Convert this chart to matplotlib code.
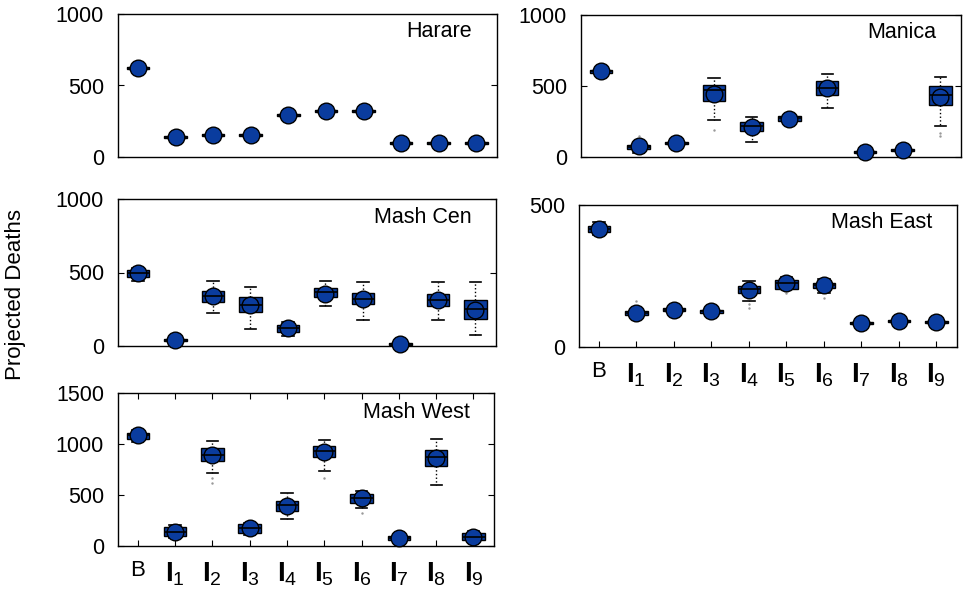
import matplotlib
matplotlib.use("Agg")
import matplotlib.pyplot as plt

plt.rcParams['font.family'] = ['Liberation Sans', 'DejaVu Sans']
plt.rcParams['mathtext.fontset'] = 'custom'
plt.rcParams['mathtext.rm'] = 'Liberation Sans'
plt.rcParams['mathtext.bf'] = 'Liberation Sans:bold'

BLUE = '#0a3c9e'

SCENARIOS = ['B'] + ['I%d' % i for i in range(1, 10)]
XLABELS = ['B'] + [r'$\mathbf{I}_{\mathrm{%d}}$' % i for i in range(1, 10)]

# Harare
HAR_MEAN = [620, 142, 154, 154, 294, 322, 320, 96, 96, 96]
HAR_MED = [620, 142, 154, 154, 294, 322, 320, 96, 96, 96]
HAR_Q1 = [612, 135, 147, 147, 285, 315, 313, 90, 90, 90]
HAR_Q3 = [628, 149, 161, 161, 303, 329, 327, 102, 102, 102]
HAR_LO = [610, 133, 145, 145, 280, 312, 310, 88, 88, 88]
HAR_HI = [630, 151, 163, 163, 308, 332, 330, 104, 104, 104]
HAR_FLIERS = [[], [], [], [], [], [], [], [], [], []]

# Manica
MAN_MEAN = [605, 75, 99, 447, 212, 271, 487, 35, 52, 424]
MAN_MED = [605, 70, 99, 471, 217, 272, 487, 35, 52, 440]
MAN_Q1 = [595, 55, 92, 393, 181, 255, 435, 28, 45, 365]
MAN_Q3 = [615, 85, 106, 506, 247, 290, 534, 42, 59, 499]
MAN_LO = [590, 25, 88, 259, 106, 240, 346, 24, 41, 217]
MAN_HI = [620, 100, 110, 557, 282, 300, 584, 46, 63, 560]
MAN_FLIERS = [[], [146], [], [188], [], [], [], [], [], [169, 146]]

# Mashonaland Central
CEN_MEAN = [494, 39, 339, 277, 123, 357, 323, 16, 316, 248]
CEN_MED = [495, 39, 339, 277, 123, 364, 323, 16, 316, 255]
CEN_Q1 = [470, 32, 296, 232, 95, 330, 284, 10, 273, 187]
CEN_Q3 = [515, 46, 373, 330, 141, 396, 361, 22, 352, 311]
CEN_LO = [445, 28, 225, 118, 68, 271, 180, 6, 180, 73]
CEN_HI = [530, 50, 441, 402, 164, 443, 434, 26, 437, 437]
CEN_FLIERS = [[], [], [], [], [], [], [], [], [], []]

# Mashonaland East
EAST_MEAN = [415, 120, 132, 126, 200, 224, 218, 85, 91, 89]
EAST_MED = [415, 120, 132, 126, 204, 224, 218, 85, 91, 89]
EAST_Q1 = [405, 113, 127, 121, 191, 203, 206, 81, 87, 85]
EAST_Q3 = [425, 127, 137, 131, 214, 235, 226, 89, 95, 93]
EAST_LO = [394, 110, 125, 119, 162, 203, 190, 79, 85, 83]
EAST_HI = [441, 130, 139, 133, 233, 245, 238, 91, 97, 95]
EAST_FLIERS = [[], [161], [], [], [138, 150], [190], [171], [], [], []]

# Mashonaland West
WEST_MEAN = [1086, 140, 890, 173, 391, 924, 466, 75, 858, 91]
WEST_MED = [1086, 140, 890, 173, 401, 929, 473, 75, 874, 91]
WEST_Q1 = [1050, 98, 835, 130, 345, 868, 424, 55, 783, 59]
WEST_Q3 = [1110, 189, 956, 215, 443, 978, 509, 95, 939, 124]
WEST_LO = [1021, 75, 717, 108, 261, 737, 369, 40, 597, 32]
WEST_HI = [1135, 205, 1030, 228, 522, 1037, 538, 110, 1047, 150]
WEST_FLIERS = [[], [], [662, 613], [], [], [662], [326], [], [], []]

# name, data, ylim, yticks, axes rect in pixels (left, top, right, bottom), xlabels, top ticks
PANELS = [
    ('Harare', (HAR_MEAN, HAR_MED, HAR_Q1, HAR_Q3, HAR_LO, HAR_HI, HAR_FLIERS),
     1000, [0, 500, 1000], (118, 14, 497, 157), False, False),
    ('Manica', (MAN_MEAN, MAN_MED, MAN_Q1, MAN_Q3, MAN_LO, MAN_HI, MAN_FLIERS),
     1000, [0, 500, 1000], (581, 15, 961, 157), False, False),
    ('Mash Cen', (CEN_MEAN, CEN_MED, CEN_Q1, CEN_Q3, CEN_LO, CEN_HI, CEN_FLIERS),
     1000, [0, 500, 1000], (118, 199, 496, 346), False, False),
    ('Mash East', (EAST_MEAN, EAST_MED, EAST_Q1, EAST_Q3, EAST_LO, EAST_HI, EAST_FLIERS),
     500, [0, 500], (579, 205, 957, 347), True, False),
    ('Mash West', (WEST_MEAN, WEST_MED, WEST_Q1, WEST_Q3, WEST_LO, WEST_HI, WEST_FLIERS),
     1500, [0, 500, 1000, 1500], (118, 393, 494, 546), True, True),
]

W, H = 965, 590
fig = plt.figure(figsize=(W / 100, H / 100), dpi=100)

for name, data, ymax, yticks, (l, t, r, b), show_x, top_ticks in PANELS:
    ax = fig.add_axes([l / W, 1 - b / H, (r - l) / W, (b - t) / H])
    mean, med, q1, q3, lo, hi, fliers = data
    pos = list(range(1, len(SCENARIOS) + 1))
    stats = []
    for i in range(len(SCENARIOS)):
        stats.append(dict(med=med[i], q1=q1[i], q3=q3[i], whislo=lo[i],
                          whishi=hi[i], fliers=fliers[i], label=SCENARIOS[i]))
    bp = ax.bxp(stats, positions=pos, widths=0.6, patch_artist=True,
                boxprops=dict(facecolor=BLUE, edgecolor='black', linewidth=1.0),
                whiskerprops=dict(color='black', linestyle=':', linewidth=1.0),
                capprops=dict(color='black', linewidth=1.2),
                medianprops=dict(color='black', linewidth=1.2),
                flierprops=dict(marker='.', markersize=1.5, markerfacecolor='0.6',
                                markeredgecolor='0.6'),
                capwidths=0.3)
    ax.plot(pos, mean, 'o', markersize=12, markerfacecolor=BLUE,
            markeredgecolor='black', markeredgewidth=1.0, zorder=3, clip_on=False)
    # median line shows over the mean marker only where the box is tall enough
    for i, m in enumerate(bp['medians']):
        if q3[i] - q1[i] > 0.04 * ymax:
            m.set_zorder(4)

    ax.set_xlim(0.47, 10.55)
    ax.set_ylim(0, ymax)
    ax.set_yticks(yticks)
    ax.tick_params(axis='y', direction='in', left=True, right=True, length=4,
                   labelsize=15.5, pad=10)
    ax.set_xticks(pos)
    if show_x:
        ax.set_xticklabels(XLABELS)
        for i, lbl in enumerate(ax.get_xticklabels()):
            lbl.set_fontsize(16 if i == 0 else 20)
        ax.tick_params(axis='x', direction='in', bottom=True, top=top_ticks,
                       length=4, pad=10)
    else:
        ax.set_xticklabels([])
        ax.tick_params(axis='x', bottom=False, top=False)
    for sp in ax.spines.values():
        sp.set_linewidth(1.0)
    ax.text(0.935, 0.875, name, transform=ax.transAxes, ha='right', va='center',
            fontsize=15.5)

fig.text(0.016, 0.5, 'Projected Deaths', rotation=90, ha='center', va='center',
         fontsize=16)

plt.savefig('out.png', dpi=100)
